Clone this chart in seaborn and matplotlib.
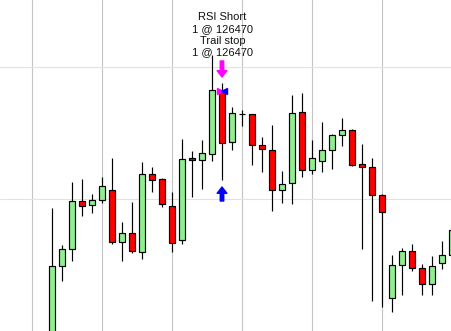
import matplotlib
matplotlib.use("Agg")
import matplotlib.pyplot as plt
import seaborn as sns
import numpy as np

# ---- data ----
opens = [125295, 125665, 125750, 125990, 125970, 125995, 126045, 125785, 125830, 125735,
         126125, 126100, 125965, 125795, 126205, 126195, 126225, 126540, 126285, 126425,
         126425, 126270, 126245, 126045, 126080, 126435, 126145, 126190, 126245, 126320,
         126345, 126175, 126160, 126020, 125505, 125670, 125740, 125655, 125575, 125680,
         125720]
closes = [125665, 125750, 125990, 125965, 125995, 126065, 125785, 125830, 125740, 126125,
          126095, 125975, 125780, 126200, 126195, 126230, 126545, 126280, 126430, 126425,
          126270, 126250, 126045, 126075, 126430, 126145, 126205, 126245, 126320, 126345,
          126170, 126160, 126020, 125935, 125670, 125740, 125655, 125575, 125665, 125720,
          125845]
highs = [125955, 125770, 126085, 126100, 126025, 126110, 126205, 125885, 125985, 126185,
         126160, 126105, 126035, 126300, 126240, 126295, 126720, 126580, 126460, 126445,
         126425, 126310, 126370, 126140, 126520, 126530, 126295, 126385, 126325, 126405,
         126350, 126275, 126205, 126025, 125720, 125755, 125775, 125675, 125715, 125790,
         125870]
lows = [125270, 125590, 125690, 125915, 125930, 125980, 125775, 125690, 125730, 125700,
        126035, 125960, 125735, 125775, 126010, 126050, 126190, 126095, 126245, 126365,
        126170, 126135, 125940, 125980, 125975, 126110, 126125, 126135, 126150, 126265,
        126165, 125750, 125490, 125460, 125435, 125520, 125640, 125520, 125520, 125650,
        125685]

signal_bar = 17
signal_lines = ["RSI Short", "1 @ 126470", "Trail stop", "1 @ 126470"]
grid_prices = [126000, 126660]

# ---- style ----
sns.set_style("white")
plt.rcParams["font.family"] = ["Liberation Sans", "DejaVu Sans"]

fig = plt.figure(figsize=(4.52, 3.31), dpi=100)
ax = fig.add_axes([0, 0, 1, 1])

n = len(opens)
idx = np.arange(n)
o = np.array(opens); c = np.array(closes)
h = np.array(highs); l = np.array(lows)

# wicks
ax.vlines(idx, l, h, color="black", lw=0.85, zorder=2)

# bodies
colors = []
for oo, cc in zip(o, c):
    if cc > oo:
        colors.append("#90EE90")
    elif cc < oo:
        colors.append("#FF0000")
    else:
        colors.append("black")
bottom = np.minimum(o, c)
height = np.abs(c - o)
ax.bar(idx, height, bottom=bottom, width=0.6, color=colors,
       edgecolor="black", linewidth=0.85, zorder=3)

# grid
ax.set_xticks(np.arange(-2, n, 7))
ax.set_yticks(grid_prices)
ax.xaxis.grid(True, color="#c4c4c4", lw=0.8, zorder=0)
ax.yaxis.grid(True, color="#e2e2e2", lw=0.8, zorder=0)
ax.set_axisbelow(True)
ax.tick_params(left=False, bottom=False, labelleft=False, labelbottom=False)
for s in ax.spines.values():
    s.set_visible(False)

ax.set_xlim(-5.2, 40.0)
ax.set_ylim(125340, 126995)

# signal markers
sb = signal_bar
ax.annotate("", xy=(sb, h[sb] + 30), xytext=(sb, h[sb] + 110),
            arrowprops=dict(arrowstyle="simple,head_length=0.45,head_width=0.7,tail_width=0.25",
                            color="#FF00FF", shrinkA=0, shrinkB=0, mutation_scale=10), zorder=5)
ax.annotate("", xy=(sb, l[sb] - 35), xytext=(sb, l[sb] - 105),
            arrowprops=dict(arrowstyle="simple,head_length=0.45,head_width=0.7,tail_width=0.25",
                            color="#0000FF", shrinkA=0, shrinkB=0, mutation_scale=10), zorder=5)
ax.plot([sb - 0.23], [o[sb]], marker=">", color="#FF00FF", markersize=5, zorder=6, linestyle="none")
ax.plot([sb + 0.25], [o[sb]], marker="<", color="#0000FF", markersize=5, zorder=6, linestyle="none")

for k, line in enumerate(signal_lines):
    ax.text(sb + 0.05, h[sb] + 315 - 59 * k, line, ha="center", va="baseline",
            fontsize=8, color="#111111", zorder=7)

fig.savefig("out.png", dpi=100)
